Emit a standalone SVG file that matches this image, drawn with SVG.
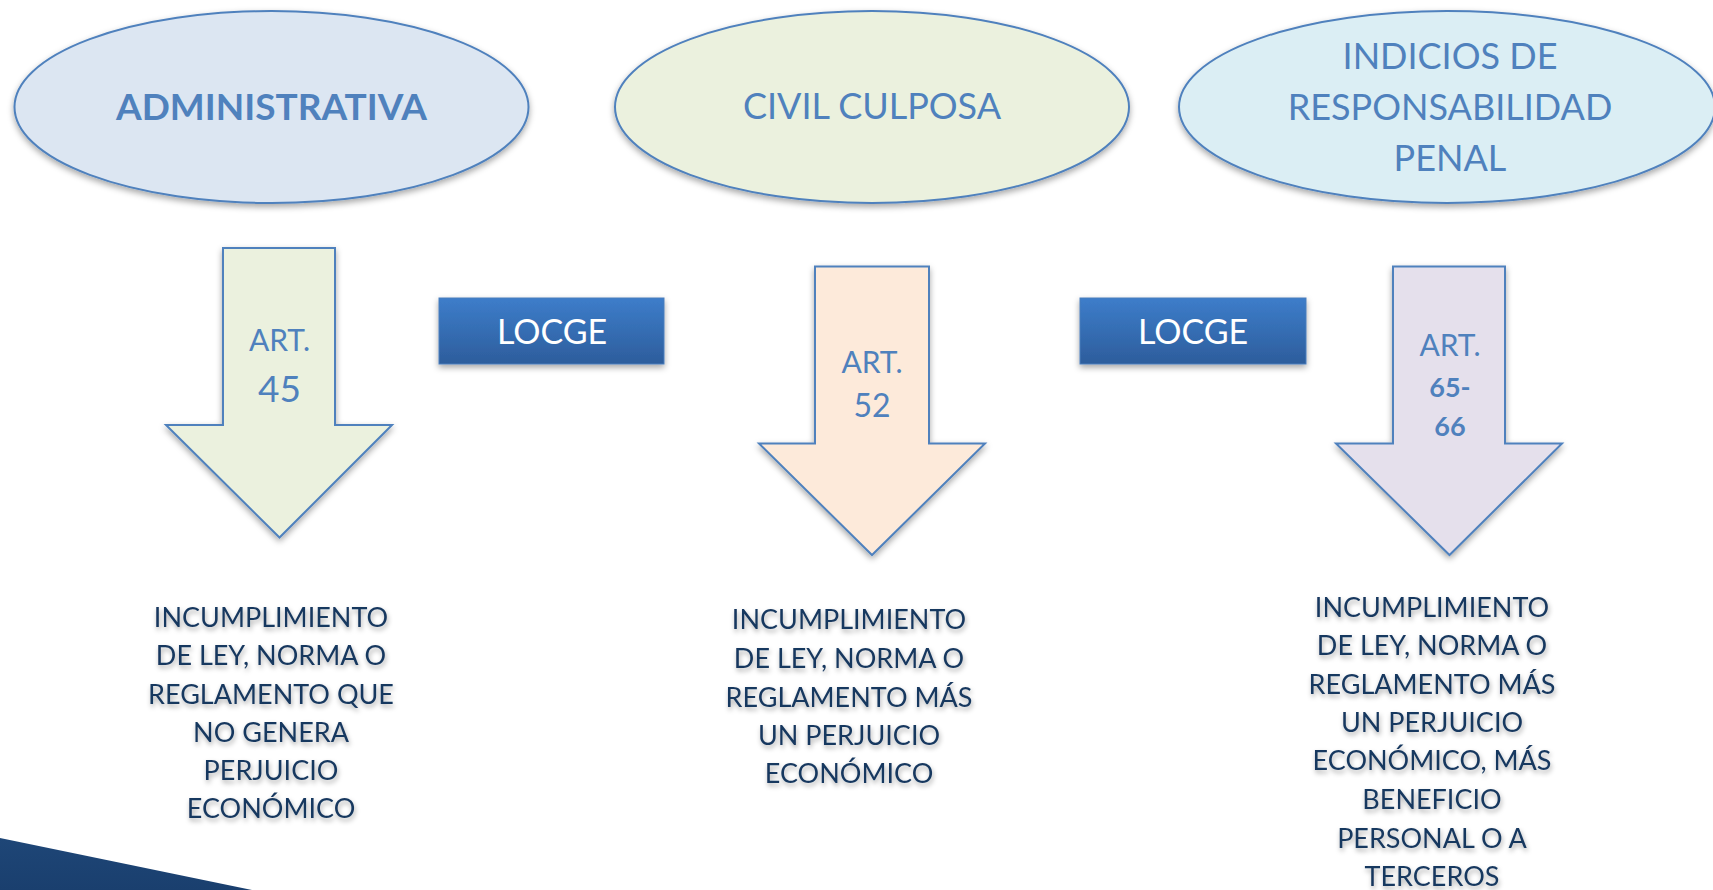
<svg xmlns="http://www.w3.org/2000/svg" width="1713" height="890" viewBox="0 0 1713 890">
<defs>
<style>
.ell{stroke:#4F81BD;stroke-width:2;filter:url(#sh)}
.arr{stroke:#4F81BD;stroke-width:2;filter:url(#sh)}
.t{font-family:Lato,"Liberation Sans",Arial,sans-serif;fill:#4F81BD;text-anchor:middle}
.box{fill:url(#bg);stroke:#4A7EBB;stroke-width:1;filter:url(#sh)}
.bt{font-family:Lato,"Liberation Sans",Arial,sans-serif;fill:#FFFFFF;font-size:34px;text-anchor:middle}
.d{font-family:Lato,"Liberation Sans",Arial,sans-serif;fill:#17375E;font-size:27px;text-anchor:middle;filter:url(#tsh)}
</style>
<linearGradient id="bg" x1="0" y1="0" x2="0" y2="1">
<stop offset="0" stop-color="#3D7DCA"/>
<stop offset="1" stop-color="#2D5D9C"/>
</linearGradient>
<linearGradient id="corner" x1="0" y1="0" x2="0" y2="1">
<stop offset="0" stop-color="#1E4677"/>
<stop offset="1" stop-color="#1A3F6E"/>
</linearGradient>
<filter id="sh" x="-10%" y="-10%" width="120%" height="130%">
<feDropShadow dx="0" dy="3" stdDeviation="3" flood-color="#000" flood-opacity="0.35"/>
</filter>
<filter id="tsh" x="-10%" y="-30%" width="120%" height="170%">
<feDropShadow dx="1" dy="3" stdDeviation="2.5" flood-color="#000" flood-opacity="0.35"/>
</filter>
</defs>
<rect width="1713" height="890" fill="#FFFFFF"/>
<g id="corner-shape">
<polygon points="0,838 252,890 0,890" fill="url(#corner)"/>
</g>
<g id="node-administrativa">
<ellipse class="ell" cx="271.5" cy="107" rx="257" ry="96" fill="#DCE6F2"/>
<text class="t" x="271.5" y="120" font-size="37" font-weight="bold">ADMINISTRATIVA</text>
</g>
<g id="node-civil">
<ellipse class="ell" cx="872" cy="107" rx="257" ry="96" fill="#EBF1DE"/>
<text class="t" x="872" y="119" font-size="36">CIVIL CULPOSA</text>
</g>
<g id="node-penal">
<ellipse class="ell" cx="1447" cy="107" rx="268" ry="96" fill="#DBEEF4"/>
<text class="t" x="1450" y="69" font-size="36">INDICIOS DE</text>
<text class="t" x="1450" y="120" font-size="36">RESPONSABILIDAD</text>
<text class="t" x="1450" y="171" font-size="36">PENAL</text>
</g>
<g id="node-art45">
<polygon class="arr" points="223,248 335,248 335,425 392,425 279.5,537.5 166,425 223,425" fill="#EBF1DE"/>
<text class="t" x="279.5" y="351" font-size="30">ART.</text>
<text class="t" x="279.5" y="402" font-size="37">45</text>
</g>
<g id="node-art52">
<polygon class="arr" points="815,266.5 929,266.5 929,443.5 985,443.5 872,555 759,443.5 815,443.5" fill="#FDEADA"/>
<text class="t" x="872" y="373" font-size="30">ART.</text>
<text class="t" x="872" y="417" font-size="32">52</text>
</g>
<g id="node-art6566">
<polygon class="arr" points="1393,266.5 1505,266.5 1505,443.5 1562,443.5 1449.5,555 1336,443.5 1393,443.5" fill="#E5E0EC"/>
<text class="t" x="1450" y="356" font-size="30">ART.</text>
<text class="t" x="1450" y="397" font-size="27" font-weight="bold">65-</text>
<text class="t" x="1450" y="436" font-size="27" font-weight="bold">66</text>
</g>
<g id="node-locge1">
<rect class="box" x="439" y="298" width="225" height="66"/>
<text class="bt" x="552" y="344">LOCGE</text>
</g>
<g id="node-locge2">
<rect class="box" x="1080" y="298" width="226" height="66"/>
<text class="bt" x="1193" y="344">LOCGE</text>
</g>
<g id="node-desc1">
<text class="d" x="271" y="627">INCUMPLIMIENTO</text>
<text class="d" x="271" y="665">DE LEY, NORMA O</text>
<text class="d" x="271" y="704">REGLAMENTO QUE</text>
<text class="d" x="271" y="742">NO GENERA</text>
<text class="d" x="271" y="780">PERJUICIO</text>
<text class="d" x="271" y="818">ECONÓMICO</text>
</g>
<g id="node-desc2">
<text class="d" x="849" y="629">INCUMPLIMIENTO</text>
<text class="d" x="849" y="668">DE LEY, NORMA O</text>
<text class="d" x="849" y="707">REGLAMENTO MÁS</text>
<text class="d" x="849" y="745">UN PERJUICIO</text>
<text class="d" x="849" y="783">ECONÓMICO</text>
</g>
<g id="node-desc3">
<text class="d" x="1432" y="617">INCUMPLIMIENTO</text>
<text class="d" x="1432" y="655">DE LEY, NORMA O</text>
<text class="d" x="1432" y="694">REGLAMENTO MÁS</text>
<text class="d" x="1432" y="732">UN PERJUICIO</text>
<text class="d" x="1432" y="770">ECONÓMICO, MÁS</text>
<text class="d" x="1432" y="809">BENEFICIO</text>
<text class="d" x="1432" y="848">PERSONAL O A</text>
<text class="d" x="1432" y="886">TERCEROS</text>
</g>
<g id="connectors"></g>
</svg>
